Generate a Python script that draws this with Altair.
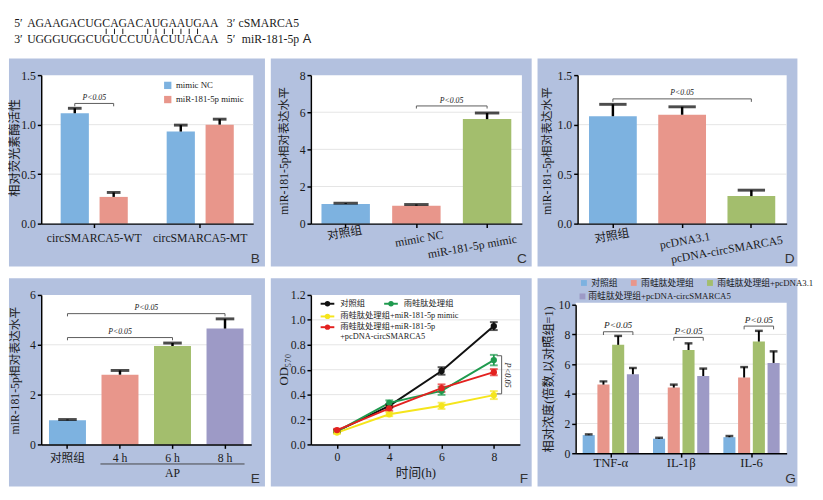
import altair as alt
import pandas as pd

SERIF = "Liberation Serif, 'Noto Sans CJK SC', serif"
SANS = "Liberation Sans, Arial, sans-serif"
BLUE, SALMON, GREEN, PURPLE = "#7db2e0", "#e8968b", "#a3be6d", "#9d9ac6"
BG = "#b3c1df"
GRIDC = "#e4e4e4"
BRC = "#5a5a5a"
INK = "#1a1a1a"

# A: pairing of circSMARCA5 with miR-181-5p
seq_top = list("AGAAGACUGCAGACAUGAAUGAA")
seq_bot = list("UGGGUGGCUGUCCUUACUUACAA")
pair_idx = [9, 10, 11, 14, 15, 16, 17, 18, 19, 20]

# B
b_cats = ["circSMARCA5-WT", "circSMARCA5-MT"]
b_grps = ["mimic NC", "miR-181-5p mimic"]
b_vals = [[1.115, 0.27], [0.93, 1.0]]
b_errs = [[0.05, 0.045], [0.065, 0.055]]

# C
c_cats = ["对照组", "mimic NC", "miR-181-5p mimic"]
c_vals = [1.06, 0.97, 5.63]
c_errs = [0.04, 0.06, 0.33]

# D
d_cats = ["对照组", "pcDNA3.1", "pcDNA-circSMARCA5"]
d_vals = [1.085, 1.10, 0.278]
d_errs = [0.12, 0.08, 0.06]

# E
e_cats = ["对照组", "4 h", "6 h", "8 h"]
e_vals = [0.97, 2.80, 3.95, 4.65]
e_errs = [0.03, 0.17, 0.12, 0.39]
e_span = ["4 h", "6 h", "8 h"]
e_span_label = "AP"

# F
f_hours = ["0", "4", "6", "8"]
f_series = ["对照组", "雨蛙肽处理组", "雨蛙肽处理组+miR-181-5p mimic",
            "雨蛙肽处理组+miR-181-5p+pcDNA-circSMARCA5"]
f_vals = [[0.107, 0.31, 0.59, 0.95],
          [0.105, 0.334, 0.43, 0.677],
          [0.095, 0.242, 0.31, 0.396],
          [0.115, 0.29, 0.452, 0.58]]
f_errs = [[0.01, 0.015, 0.03, 0.032],
          [0.01, 0.02, 0.032, 0.042],
          [0.01, 0.015, 0.025, 0.032],
          [0.01, 0.02, 0.03, 0.025]]
f_colors = ["#111111", "#1f9a4e", "#f5e51c", "#e3211f"]

# G
g_cats = ["TNF-α", "IL-1β", "IL-6"]
g_grps = ["对照组", "雨蛙肽处理组", "雨蛙肽处理组+pcDNA3.1", "雨蛙肽处理组+pcDNA-circSMARCA5"]
g_vals = [[1.22, 4.62, 7.30, 5.32], [0.98, 4.42, 6.95, 5.20], [1.08, 5.10, 7.52, 6.08]]
g_errs = [[0.05, 0.22, 0.60, 0.42], [0.06, 0.20, 0.45, 0.50], [0.08, 0.70, 0.72, 0.78]]
g_colors = [BLUE, SALMON, GREEN, PURPLE]

one = pd.DataFrame({"k": [0]})
TOP = 17  # blue panel margin above each plot


def frame(w, h, l, r, b, wt=0, fill=BG, t=TOP):
    bg = alt.Chart(one).mark_rect(color=fill).encode(
        x=alt.value(-l), x2=alt.value(w + r), y=alt.value(-t), y2=alt.value(h + b))
    wh = alt.Chart(one).mark_rect(color="white").encode(
        x=alt.value(0), x2=alt.value(w), y=alt.value(wt), y2=alt.value(h))
    return [bg, wh]


def yfac(dom, vals, fmt, title, tx, ty, tsize=12.5, rng=None):
    if rng is None:
        sc = alt.Scale(domain=dom, nice=False)
    else:
        sc = alt.Scale(domain=dom, nice=False, range=rng)
    ax = alt.Axis(title=title, values=vals, format=fmt, titleX=tx, titleY=ty, titleAngle=270,
                  titleAlign="center", titleBaseline="middle", titleFontSize=tsize, labelPadding=2,
                  zindex=1)
    return lambda f: alt.Y(f, type="quantitative", scale=sc, axis=ax)


def grid(Y, vals):
    return alt.Chart(pd.DataFrame({"v": vals})).mark_rule(color=GRIDC, strokeWidth=1).encode(y=Y("v"))


def tag(ch, x, y):
    return alt.Chart(one).mark_text(text=ch, font=SANS, fontSize=14, color="#333").encode(
        x=alt.value(x), y=alt.value(y))


def ptext(df, enc, dx=0, size=8):
    return alt.Chart(df).mark_text(text="P<0.05", font=SERIF, fontSize=size, fontStyle="italic",
                                   baseline="bottom", dx=dx, dy=-1.5, color=INK).encode(**enc)


def bracket(X, Y, c1, c2, yv, drop, tcat, dx=0):
    pts = pd.DataFrame({"cat": [c1, c1, c2, c2], "v": [yv - drop, yv, yv, yv - drop], "o": [0, 1, 2, 3]})
    line = alt.Chart(pts).mark_line(color=BRC, strokeWidth=1).encode(x=X, y=Y("v"), order="o:Q")
    txt = ptext(pd.DataFrame({"cat": [tcat], "v": [yv]}), dict(x=X, y=Y("v")), dx)
    return [line, txt]


def simple_bars(cats, vals, errs, colors, X, Y, cap):
    df = pd.DataFrame({"cat": cats, "v": vals, "top": [v + e for v, e in zip(vals, errs)]})
    bars = alt.Chart(df).mark_bar().encode(
        x=X, y=Y("v"), color=alt.Color("cat:N", scale=alt.Scale(domain=cats, range=colors), legend=None))
    err = alt.Chart(df).mark_rule(color="black", strokeWidth=2.5).encode(x=X, y=Y("v"), y2="top")
    caps = alt.Chart(df).mark_tick(color="black", thickness=3, size=cap).encode(x=X, y=Y("top"))
    return [bars, err, caps]


def lab_cond(cats, vals, default):
    return {"condition": [{"test": f"datum.value === '{c}'", "value": v} for c, v in zip(cats, vals)],
            "value": default}


def indep(ch):
    return ch.resolve_scale(color="independent", xOffset="independent").resolve_legend(color="independent")


# ---------------- A  (same left/top extent as the panels below)
n = len(seq_top)
SX = alt.X("i:O", scale=alt.Scale(type="point", domain=list(range(n)), range=[-10, 177], padding=0), axis=None)
seq_style = dict(font=SERIF, fontSize=12, color=INK, baseline="middle")
L1, L2 = -8, 8


def atext(t, x, y, align, font=SERIF, size=12):
    return alt.Chart(one).mark_text(text=t, font=font, fontSize=size, color=INK, align=align,
                                    baseline="middle").encode(x=alt.value(x), y=alt.value(y))


panelA = alt.layer(
    *frame(240, 16, 33, 40, 0, 0, "white"),
    alt.Chart(pd.DataFrame({"i": range(n), "ch": seq_top})).mark_text(**seq_style).encode(
        x=SX, y=alt.value(L1), text="ch:N"),
    alt.Chart(pd.DataFrame({"i": range(n), "ch": seq_bot})).mark_text(**seq_style).encode(
        x=SX, y=alt.value(L2), text="ch:N"),
    alt.Chart(pd.DataFrame({"i": pair_idx})).mark_rule(color=INK, strokeWidth=1).encode(
        x=SX, y=alt.value(L1 + 5.5), y2=alt.value(L2 - 5)),
    atext("5′", -19, L1, "right"), atext("3′", -19, L2, "right"),
    atext("3′", 190, L1, "left"), atext("cSMARCA5", 264, L1, "right"),
    atext("5′", 190, L2, "left"), atext("miR-181-5p", 264, L2, "right"),
    atext("A", 272, L2 + 0.5, "center", SANS, 13),
).properties(width=240, height=16)

# ---------------- B
BW, BH = 217, 152
BX = alt.X("cat:N", scale=alt.Scale(domain=b_cats, paddingInner=0.367, paddingOuter=0.1835),
           axis=alt.Axis(title=None, labelAngle=0, labelPadding=5, zindex=1))
BXO = alt.XOffset("grp:N", scale=alt.Scale(domain=b_grps, paddingInner=0.275, paddingOuter=0))
BY = yfac([0, 1.5], [0, 0.5, 1.0, 1.5], ".1f", "相对荧光素酶活性", -27, 74)
bdf = pd.DataFrame([{"cat": c, "grp": g, "v": b_vals[i][j], "top": b_vals[i][j] + b_errs[i][j]}
                    for i, c in enumerate(b_cats) for j, g in enumerate(b_grps)])
b_leg = alt.Legend(title=None, orient="none", legendX=125, legendY=6, symbolType="square",
                   symbolSize=56, symbolStrokeWidth=0, labelFont=SERIF, labelFontSize=9, labelOffset=4,
                   rowPadding=4.5, padding=0, labelColor=INK)
b_bars = alt.Chart(bdf).mark_bar().encode(
    x=BX, xOffset=BXO, y=BY("v"),
    color=alt.Color("grp:N", scale=alt.Scale(domain=b_grps, range=[BLUE, SALMON]), legend=b_leg))
b_err = alt.Chart(bdf).mark_rule(color="black", strokeWidth=2.5).encode(x=BX, xOffset=BXO, y=BY("v"), y2="top")
b_cap = alt.Chart(bdf).mark_tick(color="black", thickness=3, size=14).encode(x=BX, xOffset=BXO, y=BY("top"))
b_pts = pd.DataFrame({"cat": [b_cats[0]] * 4, "grp": [b_grps[0], b_grps[0], b_grps[1], b_grps[1]],
                      "v": [1.185, 1.214, 1.214, 1.185], "o": [0, 1, 2, 3]})
b_brk = alt.Chart(b_pts).mark_line(color=BRC, strokeWidth=1).encode(x=BX, xOffset=BXO, y=BY("v"), order="o:Q")
b_txt = ptext(pd.DataFrame({"cat": [b_cats[0]], "v": [1.214]}), dict(x=BX, y=BY("v")))
panelB = alt.layer(*frame(BW, BH, 33, 12, 44), grid(BY, [0.5, 1.0]), b_bars, b_err, b_cap,
                   b_brk, b_txt, tag("B", BW + 2, BH + 36)).properties(width=BW, height=BH)

# ---------------- C
CW, CH = 216, 152
CX = alt.X("cat:N", scale=alt.Scale(domain=c_cats, paddingInner=0.315, paddingOuter=0.15),
           axis=alt.Axis(title=None, labelAngle=350, labelAlign="center", labelBaseline="top", zindex=1,
                         labelOffset=lab_cond(c_cats, [-2, 2, -16], 0),
                         labelPadding=lab_cond(c_cats, [0, 6, 14], 3)))
CY = yfac([0, 8], [0, 2, 4, 6, 8], "d", "miR-181-5p相对表达水平", -28, 77, 12)
panelC = alt.layer(*frame(CW, CH, 41, 10, 44), grid(CY, [2, 4, 6]),
                   *simple_bars(c_cats, c_vals, c_errs, [BLUE, SALMON, GREEN], CX, CY, 25),
                   *bracket(CX, CY, c_cats[1], c_cats[2], 6.34, 0.14, c_cats[1], 36),
                   tag("C", CW, CH + 36)).properties(width=CW, height=CH)

# ---------------- D
DW, DH = 214, 152
DX = alt.X("cat:N", scale=alt.Scale(domain=d_cats, paddingInner=0.31, paddingOuter=0.165),
           axis=alt.Axis(title=None, labelAngle=350, labelAlign="center", labelBaseline="top", zindex=1,
                         labelOffset=lab_cond(d_cats, [-2, 2, -26], 0),
                         labelPadding=lab_cond(d_cats, [3, 8, 17], 4)))
DY = yfac([0, 1.5], [0, 0.5, 1.0, 1.5], ".1f", "miR-181-5p相对表达水平", -32, 77, 12)
panelD = alt.layer(*frame(DW, DH, 41, 11, 44), grid(DY, [0.5, 1.0]),
                   *simple_bars(d_cats, d_vals, d_errs, [BLUE, SALMON, GREEN], DX, DY, 28),
                   *bracket(DX, DY, d_cats[0], d_cats[2], 1.26, 0.03, d_cats[1]),
                   tag("D", DW + 3, DH + 36)).properties(width=DW, height=DH)

# ---------------- E
EW, EH = 215, 153
EX = alt.X("cat:N", scale=alt.Scale(domain=e_cats, paddingInner=0.296, paddingOuter=0.148),
           axis=alt.Axis(title=None, labelAngle=0, labelPadding=4, zindex=1))
EY = yfac([0, 6], [0, 2, 4, 6], "d", "miR-181-5p相对表达水平", -27, 77, 12)
e_line = alt.Chart(pd.DataFrame({"cat": [e_span[0]], "cat2": [e_span[-1]]})).mark_rule(
    color="#444", strokeWidth=1, xOffset=-20, x2Offset=20).encode(x=EX, x2="cat2", y=alt.value(EH + 20))
e_lab = alt.Chart(pd.DataFrame({"cat": [e_span[len(e_span) // 2]]})).mark_text(
    text=e_span_label, font=SERIF, fontSize=12, color=INK, baseline="middle").encode(x=EX, y=alt.value(EH + 29))
panelE = alt.layer(*frame(EW, EH, 33, 14, 43), grid(EY, [2, 4]),
                   *simple_bars(e_cats, e_vals, e_errs, [BLUE, SALMON, GREEN, PURPLE], EX, EY, 19),
                   *bracket(EX, EY, e_cats[0], e_cats[2], 4.29, 0.11, e_cats[1]),
                   *bracket(EX, EY, e_cats[0], e_cats[3], 5.25, 0.11, e_cats[1], 27),
                   e_line, e_lab, tag("E", EW + 4, EH + 35)).properties(width=EW, height=EH)

# ---------------- F
FW, FH = 214, 153
FX = alt.X("t:O", scale=alt.Scale(type="point", domain=f_hours, padding=0.5),
           axis=alt.Axis(title="时间(h)", labelAngle=0, labelPadding=3, titleY=29, zindex=1,
                         titleBaseline="middle", titleFontSize=13))
FY = yfac([0, 1.2], [0, 0.2, 0.4, 0.6, 0.8, 1.0, 1.2], ".1f", "OD₅₇₀", -28, 76, 13)
fdf = pd.DataFrame([{"s": s, "t": t, "v": f_vals[i][k], "lo": f_vals[i][k] - f_errs[i][k],
                     "hi": f_vals[i][k] + f_errs[i][k]}
                    for i, s in enumerate(f_series) for k, t in enumerate(f_hours)])
FC = alt.Color("s:N", scale=alt.Scale(domain=f_series, range=f_colors), legend=None)
f_lines = alt.Chart(fdf).mark_line(strokeWidth=2).encode(x=FX, y=FY("v"), color=FC)
f_err = alt.Chart(fdf).mark_rule(strokeWidth=1.8).encode(x=FX, y=FY("lo"), y2="hi", color=FC)
f_caplo = alt.Chart(fdf).mark_tick(thickness=2, size=8).encode(x=FX, y=FY("lo"), color=FC)
f_caphi = alt.Chart(fdf).mark_tick(thickness=2, size=8).encode(x=FX, y=FY("hi"), color=FC)
f_pts = alt.Chart(fdf).mark_circle(size=42, opacity=1).encode(x=FX, y=FY("v"), color=FC)
f_bv = alt.Chart(pd.DataFrame({"t": ["8"], "v": [0.712], "v2": [0.406]})).mark_rule(
    color=BRC, strokeWidth=1, xOffset=8).encode(x=FX, y=FY("v"), y2="v2")
f_bh = alt.Chart(pd.DataFrame({"t": ["8", "8"], "v": [0.712, 0.406]})).mark_rule(
    color=BRC, strokeWidth=1, xOffset=3, x2Offset=8).encode(x=FX, x2="t", y=FY("v"))
f_bt = alt.Chart(pd.DataFrame({"t": ["8"], "v": [0.556]})).mark_text(
    text="P<0.05", angle=90, xOffset=14, font=SERIF, fontSize=8.5, fontStyle="italic",
    baseline="middle", color=INK).encode(x=FX, y=FY("v"))
f_leg_slots = [(10, 9), (75, 9), (10, 22), (10, 33)]
f_leg = []
for (lx, ly), s, col in zip(f_leg_slots, f_series, f_colors):
    lab = s.replace("+pcDNA", "\n+pcDNA")
    f_leg.append(alt.Chart(one).mark_rule(color=col, strokeWidth=2).encode(
        x=alt.value(lx), x2=alt.value(lx + 14), y=alt.value(ly)))
    f_leg.append(alt.Chart(one).mark_circle(color=col, size=30, opacity=1).encode(
        x=alt.value(lx + 7), y=alt.value(ly)))
    f_leg.append(alt.Chart(one).mark_text(text=lab, lineBreak="\n", lineHeight=10, align="left",
                                          baseline="top", font=SERIF, fontSize=8.5, color=INK).encode(
        x=alt.value(lx + 20), y=alt.value(ly - 5)))
panelF = alt.layer(*frame(FW, FH, 41, 12, 43), grid(FY, [0.2, 0.4, 0.6, 0.8, 1.0]),
                   f_lines, f_err, f_caplo, f_caphi, f_pts, f_bv, f_bh, f_bt, *f_leg,
                   tag("F", FW + 4, FH + 35)).properties(width=FW, height=FH)

# ---------------- G
GW, GH = 216, 162
GX = alt.X("cat:N", scale=alt.Scale(domain=g_cats, paddingInner=0.2, paddingOuter=0.1),
           axis=alt.Axis(title=None, labelAngle=0, labelFontSize=13, labelPadding=0, zindex=1))
GXO = alt.XOffset("grp:N", scale=alt.Scale(domain=g_grps, paddingInner=0.18, paddingOuter=0))
GY = yfac([0, 10], [0, 2, 4, 6, 8, 10], "d", "相对浓度(倍数,以对照组=1)", -28, 86, 12.5, rng=[GH, 10])
gdf = pd.DataFrame([{"cat": c, "grp": g, "v": g_vals[i][j], "top": g_vals[i][j] + g_errs[i][j]}
                    for i, c in enumerate(g_cats) for j, g in enumerate(g_grps)])
# first legend row is the library legend, the wrapped second row is drawn under it
g_leg = alt.Legend(title=None, orient="none", legendX=4, legendY=-17, direction="horizontal",
                   values=g_grps[:3], symbolType="square", symbolSize=36, symbolStrokeWidth=0,
                   labelFont=SERIF, labelFontSize=9, labelOffset=3, columnPadding=11,
                   padding=0, labelLimit=300, labelColor=INK)
g_bars = alt.Chart(gdf).mark_bar().encode(
    x=GX, xOffset=GXO, y=GY("v"),
    color=alt.Color("grp:N", scale=alt.Scale(domain=g_grps, range=g_colors), legend=g_leg))
g_err = alt.Chart(gdf).mark_rule(color="black", strokeWidth=2).encode(x=GX, xOffset=GXO, y=GY("v"), y2="top")
g_cap = alt.Chart(gdf).mark_tick(color="black", thickness=2.5, size=8).encode(x=GX, xOffset=GXO, y=GY("top"))
g_leg2 = [
    alt.Chart(one).mark_square(color=g_colors[3], size=36, opacity=1).encode(x=alt.value(7), y=alt.value(1.5)),
    alt.Chart(one).mark_text(text=g_grps[3], font=SERIF, fontSize=9, color=INK, align="left",
                             baseline="middle").encode(x=alt.value(13), y=alt.value(1.5)),
]
g_brk = []
for c, yv in zip(g_cats, [8.18, 7.8, 8.56]):
    pts = pd.DataFrame({"cat": [c] * 4, "grp": [g_grps[1], g_grps[1], g_grps[3], g_grps[3]],
                        "v": [yv - 0.22, yv, yv, yv - 0.22], "o": [0, 1, 2, 3]})
    g_brk.append(alt.Chart(pts).mark_line(color=BRC, strokeWidth=1).encode(
        x=GX, xOffset=GXO, y=GY("v"), order="o:Q"))
    g_brk.append(ptext(pd.DataFrame({"cat": [c], "grp": [g_grps[2]], "v": [yv]}),
                       dict(x=GX, xOffset=GXO, y=GY("v")), 0, 9.5))
panelG = alt.layer(*frame(GW, GH, 39, 11, 34, 8), grid(GY, [2, 4, 6, 8]), g_bars, g_err, g_cap,
                   *g_brk, *g_leg2, tag("G", GW + 4, GH + 26)).properties(width=GW, height=GH)

row1 = indep(alt.hconcat(panelB, panelC, panelD, spacing=4))
row2 = indep(alt.hconcat(panelE, panelF, panelG, spacing=4))

chart = indep(alt.vconcat(panelA, row1, row2, spacing=10)).properties(
    padding=0, background="white"
).configure_view(stroke="transparent").configure_axis(
    domainColor="black", domainWidth=1.5, tickColor="black", tickWidth=1.5, tickSize=4,
    labelFont=SERIF, labelFontSize=12, labelColor=INK, titleFont=SERIF, titleFontSize=12.5,
    titleFontWeight="normal", titleColor=INK, grid=False
)

chart.save("out.html", embed_options={"renderer": "svg", "actions": False})
